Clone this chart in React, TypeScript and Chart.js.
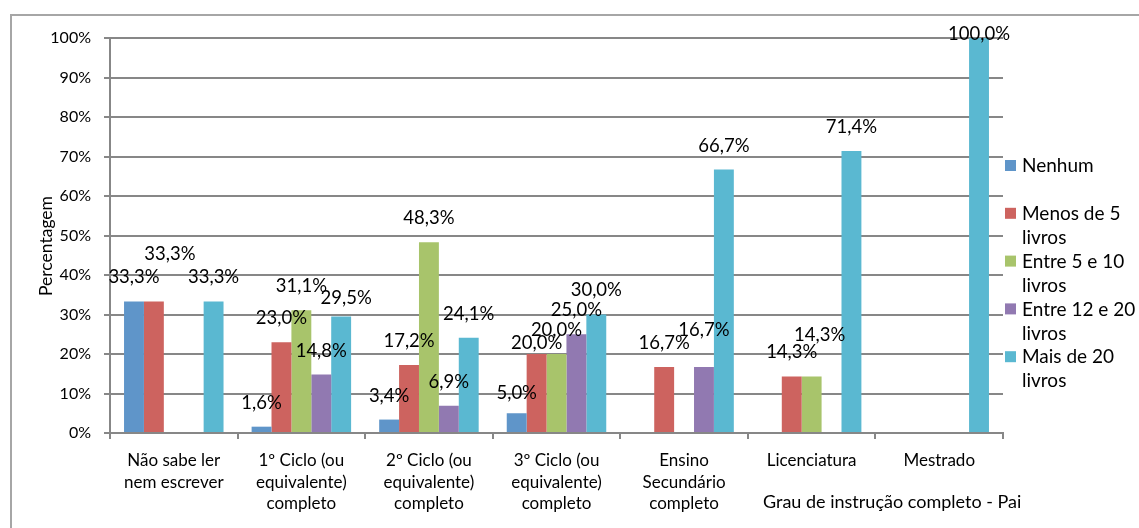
import React, { useEffect, useRef } from "react";
import { Chart, registerables } from "chart.js";

Chart.register(...registerables);

const categories: string[][] = [
  ["Não sabe ler", "nem escrever"],
  ["1º Ciclo (ou", "equivalente)", "completo"],
  ["2º Ciclo (ou", "equivalente)", "completo"],
  ["3º Ciclo (ou", "equivalente)", "completo"],
  ["Ensino", "Secundário", "completo"],
  ["Licenciatura"],
  ["Mestrado"],
];

const seriesNames = ["Nenhum", "Menos de 5 livros", "Entre 5 e 10 livros", "Entre 12 e 20 livros", "Mais de 20 livros"];

const nenhum = [33.3, 1.6, 3.4, 5.0, null, null, null];
const menosDe5 = [33.3, 23.0, 17.2, 20.0, 16.7, 14.3, null];
const entre5e10 = [null, 31.1, 48.3, 20.0, null, 14.3, null];
const entre12e20 = [null, 14.8, 6.9, 25.0, 16.7, null, null];
const maisDe20 = [33.3, 29.5, 24.1, 30.0, 66.7, 71.4, 100.0];

const yTicks = [0, 10, 20, 30, 40, 50, 60, 70, 80, 90, 100];

const yTitle = "Percentagem";
const xTitle = "Grau de instrução completo - Pai";

const colors = ["#5f95c9", "#cd635f", "#a8c46b", "#9179b1", "#5ab8d1"];

// label nudges (dataset, index) -> [dx, dy] reproducing hand-moved labels in the original
const labelNudges: Record<string, [number, number]> = {
  "1-0": [16, -23],
  "4-1": [5, 6],
  "0-3": [0, 4],
  "1-3": [0, 13],
  "3-4": [0, -13],
  "2-5": [8, -17],
  "4-6": [0, 20],
};

const FONT = "Lato, 'Open Sans', sans-serif";

const fmt = (v: number) => v.toFixed(1).replace(".", ",") + "%";

const decorPlugin = {
  id: "decor",
  beforeDraw(chart: any) {
    const ctx = chart.ctx;
    ctx.save();
    ctx.strokeStyle = "#a6a6a6";
    ctx.lineWidth = 2;
    ctx.beginPath();
    ctx.moveTo(11, chart.height + 5);
    ctx.lineTo(11, 15);
    ctx.lineTo(chart.width + 5, 15);
    ctx.stroke();
    ctx.restore();
  },
  afterDatasetsDraw(chart: any) {
    const ctx = chart.ctx;
    const area = chart.chartArea;
    ctx.save();
    // data labels
    ctx.font = "18.5px " + FONT;
    ctx.fillStyle = "#000";
    ctx.textAlign = "center";
    ctx.textBaseline = "middle";
    chart.data.datasets.forEach((ds: any, di: number) => {
      const meta = chart.getDatasetMeta(di);
      meta.data.forEach((bar: any, i: number) => {
        const v = ds.data[i];
        if (v === null || v === undefined) return;
        const n = labelNudges[di + "-" + i] || [0, 0];
        ctx.fillText(fmt(v), bar.x + n[0], bar.y - 24 + n[1]);
      });
    });
    // legend
    ctx.textAlign = "left";
    ctx.font = "19px " + FONT;
    const lx = area.right + 2;
    const maxW = 118;
    let y = 166;
    chart.data.datasets.forEach((ds: any, di: number) => {
      ctx.fillStyle = colors[di];
      ctx.fillRect(lx, y - 6, 11, 11);
      ctx.fillStyle = "#000";
      const words = String(ds.label).split(" ");
      const lines: string[] = [];
      let cur = "";
      words.forEach((w) => {
        const t = cur ? cur + " " + w : w;
        if (ctx.measureText(t).width > maxW && cur) {
          lines.push(cur);
          cur = w;
        } else cur = t;
      });
      lines.push(cur);
      lines.forEach((l, li) => ctx.fillText(l, lx + 17, y + li * 24));
      y += 47.8;
    });
    // x-axis title
    ctx.font = "18px " + FONT;
    ctx.fillText(xTitle, area.right - 240, 502);
    // y-axis title
    ctx.translate(46, 246);
    ctx.rotate(-Math.PI / 2);
    ctx.textAlign = "center";
    ctx.font = "17.5px " + FONT;
    ctx.fillText(yTitle, 0, 0);
    ctx.restore();
  },
};

export default function App() {
  const ref = useRef<HTMLCanvasElement | null>(null);
  useEffect(() => {
    const data = [nenhum, menosDe5, entre5e10, entre12e20, maisDe20];
    const chart = new Chart(ref.current as HTMLCanvasElement, {
      type: "bar",
      data: {
        labels: categories,
        datasets: data.map((d, i) => ({
          label: seriesNames[i],
          data: d,
          backgroundColor: colors[i],
          borderWidth: 0,
          categoryPercentage: 0.78,
          barPercentage: 1,
        })),
      },
      options: {
        animation: false,
        responsive: false,
        maintainAspectRatio: false,
        layout: { padding: { left: 0, right: 136, top: 38, bottom: 0 } },
        plugins: { legend: { display: false }, tooltip: { enabled: false } },
        scales: {
          x: {
            grid: { drawOnChartArea: false, drawTicks: true, tickLength: 6, color: "#878787", lineWidth: 2 },
            border: { color: "#878787", width: 2 },
            ticks: {
              color: "#000",
              font: { family: FONT, size: 17, lineHeight: 1.27 },
              padding: 11,
              maxRotation: 0,
              autoSkip: false,
            },
            afterFit: (s: any) => {
              s.height = 95;
            },
          },
          y: {
            min: 0,
            max: 100,
            afterBuildTicks: (s: any) => {
              s.ticks = yTicks.map((v) => ({ value: v }));
            },
            grid: { color: "#878787", lineWidth: 2, tickLength: 6, drawTicks: true },
            border: { color: "#878787", width: 2 },
            ticks: {
              color: "#000",
              font: { family: FONT, size: 16 },
              padding: 13,
              callback: (v: any) => v + "%",
            },
            afterFit: (s: any) => {
              s.width = 110;
            },
          },
        },
      },
      plugins: [decorPlugin],
    });
    return () => chart.destroy();
  }, []);
  return (
    <div style={{ position: "fixed", left: 0, top: 0, width: 1139, height: 528, background: "#fff" }}>
      <canvas ref={ref} width={1139} height={528} style={{ width: 1139, height: 528, display: "block" }} />
    </div>
  );
}
